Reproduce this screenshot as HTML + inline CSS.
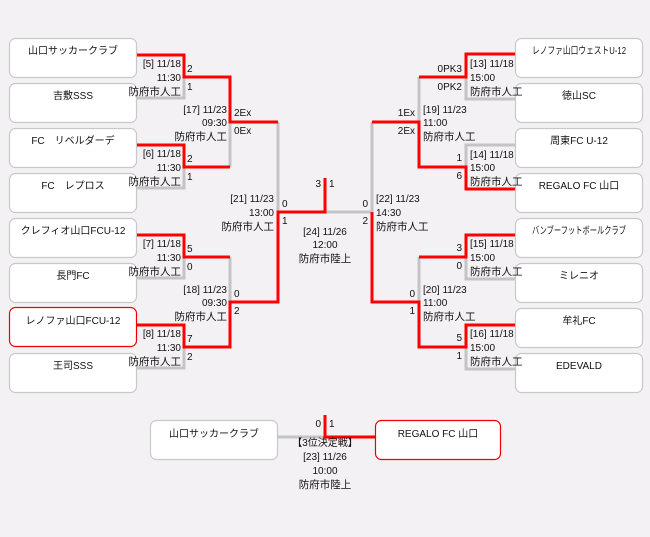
<!DOCTYPE html>
<html><head><meta charset="utf-8"><style>
html,body{margin:0;padding:0;background:#f3f1f4;}
svg{display:block;}
text{font-family:"Liberation Sans","Noto Sans CJK JP",sans-serif;font-size:10px;fill:#111;}
.n{font-size:10.5px;}
.b{font-size:10px;}
</style></head><body>
<svg width="650" height="537" viewBox="0 0 650 537" xmlns="http://www.w3.org/2000/svg">
<rect width="650" height="537" fill="#f3f1f4"/>
<g fill="#fff" stroke="#c8c8c8" stroke-width="1.2">
<rect x="9.5" y="38.5" width="127" height="39" rx="6"/>
<rect x="9.5" y="83.5" width="127" height="39" rx="6"/>
<rect x="9.5" y="128.5" width="127" height="39" rx="6"/>
<rect x="9.5" y="173.5" width="127" height="39" rx="6"/>
<rect x="9.5" y="218.5" width="127" height="39" rx="6"/>
<rect x="9.5" y="263.5" width="127" height="39" rx="6"/>
<rect x="9.5" y="353.5" width="127" height="39" rx="6"/>
<rect x="515.5" y="38.5" width="127" height="39" rx="6"/>
<rect x="515.5" y="83.5" width="127" height="39" rx="6"/>
<rect x="515.5" y="128.5" width="127" height="39" rx="6"/>
<rect x="515.5" y="173.5" width="127" height="39" rx="6"/>
<rect x="515.5" y="218.5" width="127" height="39" rx="6"/>
<rect x="515.5" y="263.5" width="127" height="39" rx="6"/>
<rect x="515.5" y="308.5" width="127" height="39" rx="6"/>
<rect x="515.5" y="353.5" width="127" height="39" rx="6"/>
<rect x="150.5" y="420.5" width="127" height="39" rx="6"/>
</g>
<g fill="#fff" stroke="#e00" stroke-width="1.2">
<rect x="9.5" y="307.5" width="127" height="39" rx="6"/>
<rect x="375.5" y="420.5" width="125" height="39" rx="6"/>
</g>
<g fill="none" stroke="#c4c4c4" stroke-width="3">
<polyline points="137,98 184,98 184,77"/>
<polyline points="137,188 184,188 184,167"/>
<polyline points="230,122 230,167"/>
<polyline points="278,122 278,212"/>
<polyline points="137,278 184,278 184,257"/>
<polyline points="137,368 184,368 184,347"/>
<polyline points="230,257 230,302"/>
<polyline points="515,99 466,99 466,77"/>
<polyline points="515,145 466,145 466,167"/>
<polyline points="419,77 419,122"/>
<polyline points="372,122 372,212 325,212"/>
<polyline points="515,279 466,279 466,257"/>
<polyline points="515,369 466,369 466,347"/>
<polyline points="419,257 419,302"/>
<polyline points="277,437 325,437"/>
</g>
<g fill="none" stroke="#f00" stroke-width="3">
<polyline points="137,55 184,55 184,77 230,77 230,122 278,122"/>
<polyline points="137,145 184,145 184,167 230,167"/>
<polyline points="137,235 184,235 184,257 230,257"/>
<polyline points="137,325 184,325 184,347 230,347 230,302 278,302 278,212 325,212 325,178"/>
<polyline points="515,54 466,54 466,77 419,77"/>
<polyline points="515,189 466,189 466,167 419,167 419,122 372,122"/>
<polyline points="515,235 466,235 466,257 419,257"/>
<polyline points="515,325 466,325 466,347 419,347 419,302 372,302 372,212"/>
<polyline points="325,415 325,437 375,437"/>
</g>
<g class="b" text-anchor="middle">
<text x="73" y="54">山口サッカークラブ</text>
<text x="73" y="99">吉敷SSS</text>
<text x="73" y="144">FC　リベルダーデ</text>
<text x="73" y="189">FC　レプロス</text>
<text x="73" y="234">クレフィオ山口FCU-12</text>
<text x="73" y="279">長門FC</text>
<text x="73" y="324">レノファ山口FCU-12</text>
<text x="73" y="369">王司SSS</text>
<text x="579" y="54" textLength="94" lengthAdjust="spacingAndGlyphs">レノファ山口ウェストU-12</text>
<text x="579" y="99">徳山SC</text>
<text x="579" y="144">周東FC U-12</text>
<text x="579" y="189">REGALO FC 山口</text>
<text x="579" y="234" textLength="94" lengthAdjust="spacingAndGlyphs">バンブーフットボールクラブ</text>
<text x="579" y="279">ミレニオ</text>
<text x="579" y="324">牟礼FC</text>
<text x="579" y="369">EDEVALD</text>
<text x="214" y="437">山口サッカークラブ</text>
<text x="438" y="437">REGALO FC 山口</text>
</g>
<g text-anchor="end">
<text x="181" y="67">[5] 11/18</text><text x="181" y="81">11:30</text><text x="181" y="95" class="n">防府市人工</text>
<text x="181" y="157">[6] 11/18</text><text x="181" y="171">11:30</text><text x="181" y="185" class="n">防府市人工</text>
<text x="181" y="247">[7] 11/18</text><text x="181" y="261">11:30</text><text x="181" y="275" class="n">防府市人工</text>
<text x="181" y="337">[8] 11/18</text><text x="181" y="351">11:30</text><text x="181" y="365" class="n">防府市人工</text>
<text x="227" y="113">[17] 11/23</text><text x="227" y="126">09:30</text><text x="227" y="140" class="n">防府市人工</text>
<text x="227" y="293">[18] 11/23</text><text x="227" y="306">09:30</text><text x="227" y="320" class="n">防府市人工</text>
<text x="274" y="202">[21] 11/23</text><text x="274" y="216">13:00</text><text x="274" y="230" class="n">防府市人工</text>
<text x="462" y="72">0PK3</text><text x="462" y="90">0PK2</text>
<text x="462" y="161">1</text><text x="462" y="179">6</text>
<text x="462" y="251">3</text><text x="462" y="269">0</text>
<text x="462" y="341">5</text><text x="462" y="359">1</text>
<text x="415" y="116">1Ex</text><text x="415" y="134">2Ex</text>
<text x="415" y="297">0</text><text x="415" y="314">1</text>
<text x="368" y="207">0</text><text x="368" y="224">2</text>
<text x="321" y="187">3</text>
<text x="321" y="427">0</text>
</g>
<g>
<text x="187" y="72">2</text><text x="187" y="90">1</text>
<text x="187" y="162">2</text><text x="187" y="180">1</text>
<text x="187" y="252">5</text><text x="187" y="270">0</text>
<text x="187" y="342">7</text><text x="187" y="360">2</text>
<text x="234" y="116">2Ex</text><text x="234" y="134">0Ex</text>
<text x="234" y="297">0</text><text x="234" y="314">2</text>
<text x="282" y="207">0</text><text x="282" y="224">1</text>
<text x="329" y="187">1</text>
<text x="329" y="427">1</text>
<text x="470" y="67">[13] 11/18</text><text x="470" y="81">15:00</text><text x="470" y="95" class="n">防府市人工</text>
<text x="470" y="158">[14] 11/18</text><text x="470" y="171">15:00</text><text x="470" y="185" class="n">防府市人工</text>
<text x="470" y="247">[15] 11/18</text><text x="470" y="261">15:00</text><text x="470" y="275" class="n">防府市人工</text>
<text x="470" y="337">[16] 11/18</text><text x="470" y="351">15:00</text><text x="470" y="365" class="n">防府市人工</text>
<text x="423" y="113">[19] 11/23</text><text x="423" y="126">11:00</text><text x="423" y="140" class="n">防府市人工</text>
<text x="423" y="293">[20] 11/23</text><text x="423" y="306">11:00</text><text x="423" y="320" class="n">防府市人工</text>
<text x="376" y="202">[22] 11/23</text><text x="376" y="216">14:30</text><text x="376" y="230" class="n">防府市人工</text>
</g>
<g text-anchor="middle">
<text x="325" y="235">[24] 11/26</text><text x="325" y="248">12:00</text><text x="325" y="262" class="n">防府市陸上</text>
<text x="325" y="446">【3位決定戦】</text><text x="325" y="460">[23] 11/26</text><text x="325" y="474">10:00</text><text x="325" y="488" class="n">防府市陸上</text>
</g>
</svg>
</body></html>
